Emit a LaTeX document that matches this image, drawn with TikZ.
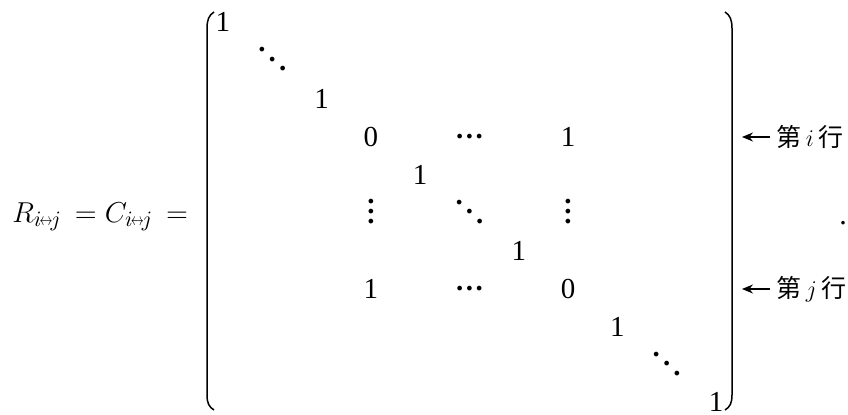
\documentclass[tikz,border=0pt]{standalone}
\usepackage{fontspec}
\usepackage{graphicx}
\setmainfont{Liberation Serif}
\newfontfamily\cjk{Noto Sans CJK SC}
\usetikzlibrary{arrows.meta}
\newcommand\bdot{\textbf{.}}
\newcommand\mycd{\raisebox{4.05pt}{\bdot\kern1.25pt\bdot\kern1.25pt\bdot}}
\newcommand\myvd{\bdot\llap{\raisebox{5pt}{\bdot}}\llap{\raisebox{10pt}{\bdot}}}
\newcommand\mydd{\raisebox{9.5pt}{\bdot}\kern1.55pt\raisebox{4.75pt}{\bdot}\kern1.55pt\bdot}
\newcommand\subij{i\mkern-1.5mu\raisebox{0.6pt}{\scalebox{0.45}[0.6]{$\leftrightarrow$}}\mkern-1.5mu j}
\begin{document}
\begin{tikzpicture}[x=0.5pt,y=-0.5pt,
  ent/.style={font=\fontsize{14.5}{16}\selectfont, inner sep=0pt, anchor=base},
  lab/.style={font=\fontsize{12.5}{14}\selectfont, inner sep=0pt, anchor=west},
  brk/.style={line width=0.75pt},
  arr/.style={line width=0.6pt, -{Stealth[length=5.5pt,width=4.5pt]}}]
\useasboundingbox (0,0) rectangle (848,414);
% left-hand side
\node[inner sep=0pt, anchor=base west, font=\fontsize{15.5}{18}\selectfont] (lhs) at (12,222)
  {$R_{\subij}\hspace{2.5pt}= C_{\subij}\hspace{2.5pt}=$};
% brackets
\draw[brk] (214,12) .. controls (209,15) and (207,20) .. (207,28) -- (207,395) .. controls (207,403) and (209,407) .. (214,410);
\draw[brk] (725,12) .. controls (730,15) and (732,20) .. (732,28) -- (732,395) .. controls (732,403) and (730,407) .. (725,410);
% diagonal
\node[ent] (d0) at (223,31.8) {1};
\node[ent] (d1) at (272.3,70.6) {\mydd};
\node[ent] (d2) at (321.6,108) {1};
\node[ent] (ii) at (370.9,146.8) {0};
\node[ent] (ic) at (469.5,146.8) {\mycd};
\node[ent] (ij) at (568.1,146.8) {1};
\node[ent] (d4) at (420.2,184.2) {1};
\node[ent] (vl) at (370.9,223.2) {\myvd};
\node[ent] (vm) at (469.5,223.2) {\mydd};
\node[ent] (vr) at (568.1,223.2) {\myvd};
\node[ent] (d6) at (518.8,260.4) {1};
\node[ent] (ji) at (370.9,298.5) {1};
\node[ent] (jc) at (469.5,298.5) {\mycd};
\node[ent] (jj) at (568.1,298.5) {0};
\node[ent] (d8) at (617.4,336.6) {1};
\node[ent] (d9) at (666.7,375.4) {\mydd};
\node[ent] (d10) at (716,411) {1};
% row labels
\node[lab] (li) at (776,137) {{\cjk 第}\kern2.2pt$i$\kern2.2pt{\cjk 行}};
\node[lab] (lj) at (776,289) {{\cjk 第}\kern2.2pt$j$\kern2.2pt{\cjk 行}};
\coordinate (ai) at (742,137);
\coordinate (aj) at (742,289);
\draw[arr] ([xshift=-3pt]li.west) -- (ai);
\draw[arr] ([xshift=-3pt]lj.west) -- (aj);
\node[inner sep=0pt, anchor=base, font=\fontsize{15}{17}\selectfont] (per) at (843,224) {.};
\end{tikzpicture}
\end{document}
